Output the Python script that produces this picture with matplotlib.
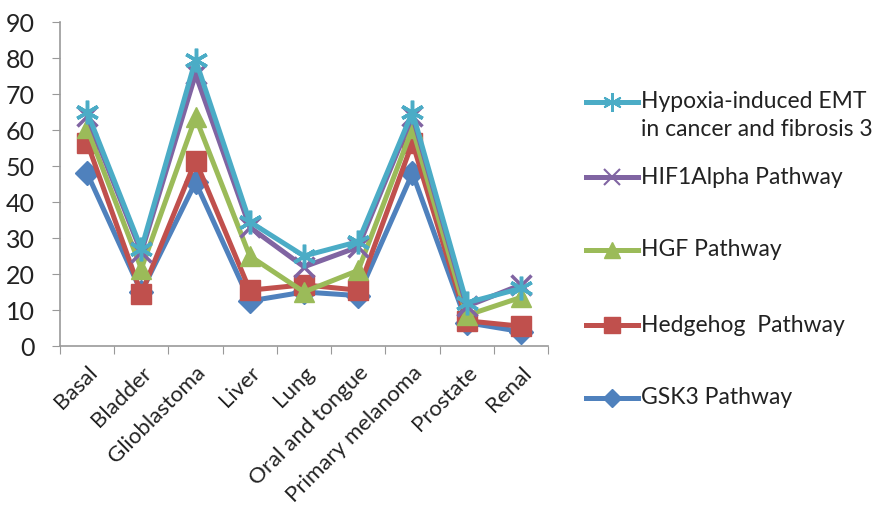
import matplotlib
matplotlib.use("Agg")
import matplotlib.pyplot as plt
from matplotlib.lines import Line2D

plt.rcParams['font.family'] = ['Lato', 'DejaVu Sans']

categories = ['Basal', 'Bladder', 'Glioblastoma', 'Liver', 'Lung',
              'Oral and tongue', 'Primary melanoma', 'Prostate', 'Renal']

gsk3 = [48, 15, 45.5, 12.5, 15, 14, 48, 6.5, 4]
hedgehog = [56.5, 14.5, 51.5, 15.5, 17, 15.5, 56.5, 7, 5.5]
hgf = [60.5, 21.5, 63.5, 25, 15, 21, 60.5, 8.5, 13.5]
hif1 = [64, 26, 75.5, 33, 22, 27.5, 64, 11, 17]
hypoxia = [65, 27, 79.5, 34.5, 25, 29, 65, 12, 16]

series = [
    ('GSK3 Pathway', gsk3, '#4F81BD', 'D', 12),
    ('Hedgehog  Pathway', hedgehog, '#C0504D', 's', 14),
    ('HGF Pathway', hgf, '#9BBB59', '^', 14),
    ('HIF1Alpha Pathway', hif1, '#8064A2', 'x', 14),
    ('Hypoxia-induced EMT', hypoxia, '#4BACC6', (6, 2, 0), 17),
]

W, H = 880, 514
fig = plt.figure(figsize=(W / 100, H / 100), dpi=100)
ax = fig.add_axes([60 / W, 1 - 346 / H, (548 - 60) / W, (346 - 22) / H])

x = list(range(len(categories)))
for name, vals, col, mk, ms in series:
    ax.plot(x, vals, color=col, lw=3.6, marker=mk, markersize=ms,
            markeredgewidth=2.5 if mk in ('x', (6, 2, 0)) else 1,
            markeredgecolor=col, markerfacecolor=col, solid_joinstyle='round')

ax.set_xlim(-0.5, len(categories) - 0.5)
ax.set_ylim(0, 90)
ax.set_yticks(range(0, 91, 10))
ax.set_xticks([i - 0.5 for i in range(len(categories) + 1)], minor=False)
ax.set_xticklabels([''] * (len(categories) + 1))
ax.set_xticks(x, minor=True)
ax.set_xticklabels(categories, minor=True, rotation=45, ha='right',
                   rotation_mode='anchor', fontsize=16, color='#222222')
ax.tick_params(axis='x', which='minor', length=0, pad=12)
ax.tick_params(axis='x', which='major', length=6, color='#999999', direction='out')
ax.tick_params(axis='y', length=6, color='#999999', labelsize=18,
               labelcolor='#222222', pad=12)
for s in ('top', 'right'):
    ax.spines[s].set_visible(False)
for s in ('left', 'bottom'):
    ax.spines[s].set_color('#999999')
    ax.spines[s].set_linewidth(1.2)

# legend drawn by hand, Excel-style
leg_y = [398, 325, 250, 177, 102]
for (name, vals, col, mk, ms), yy in zip(series, leg_y):
    fy = 1 - yy / H
    fig.add_artist(Line2D([586 / W, 638 / W], [fy, fy], color=col, lw=3.6,
                          transform=fig.transFigure))
    fig.add_artist(Line2D([612 / W], [fy], color=col, marker=mk,
                          markersize=ms * 0.8, markeredgecolor=col,
                          markerfacecolor=col,
                          markeredgewidth=1.5 if mk in ('x', (6, 2, 0)) else 1,
                          transform=fig.transFigure))
    fig.text(641 / W, fy, name, fontsize=16.5, va='center', ha='left', color='#222222')
fig.text(641 / W, 1 - 130 / H, 'in cancer and fibrosis 3', fontsize=16.5,
         va='center', ha='left', color='#222222')

fig.savefig('out.png', dpi=100)
